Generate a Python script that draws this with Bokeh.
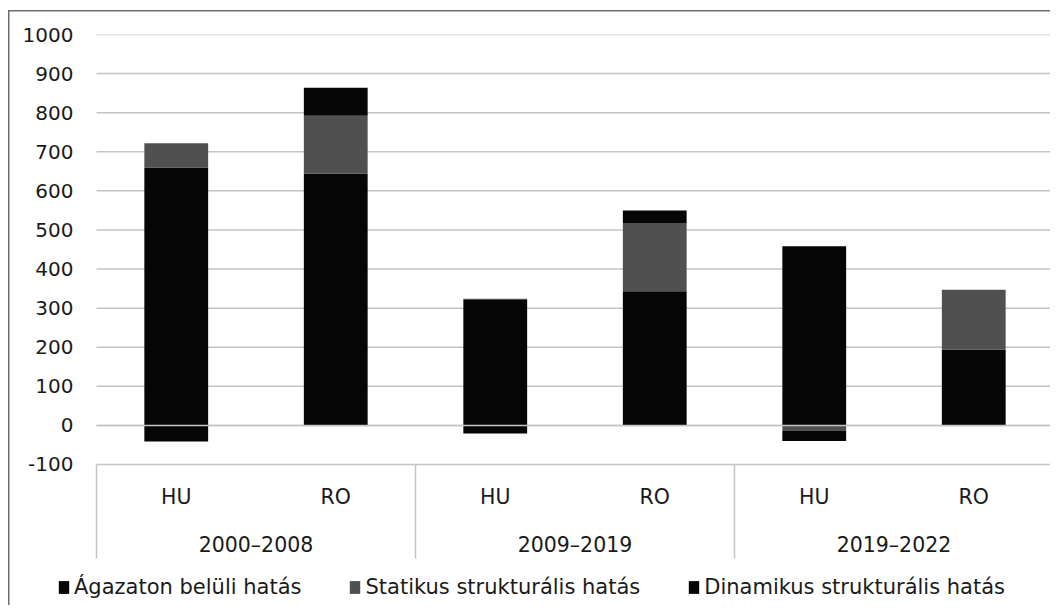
from bokeh.plotting import figure
from bokeh.models import Range1d, FixedTicker, ColumnDataSource, Legend, LegendItem
from bokeh.core.properties import value
from bokeh.embed import file_html
from bokeh.resources import INLINE

# ---- data ----
periods = ["2000–2008", "2009–2019", "2019–2022"]
countries = ["HU", "RO"]
agazaton = [660, 644, 321, 343, 458, 194]
statikus = [62, 148, 3, 175, -13, 153]
dinamikus = [-41, 72, -21, 32, -27, 0]
series_names = ["Ágazaton belüli hatás", "Statikus strukturális hatás", "Dinamikus strukturális hatás"]
series_colors = ["#060606", "#505050", "#060606"]
y_ticks = list(range(-100, 1001, 100))
y_tick_labels = {t: str(t) for t in y_ticks}

FONT = "DejaVu Sans"
TEXT_COLOR = "#1a1a1a"
GRID_COLOR = "#c4c4c4"
Y_BOTTOM = -340.5

n = len(periods) * len(countries)
xs = [i + 0.5 for i in range(n)]
cat_labels = [c for _ in periods for c in countries]

p = figure(width=1050, height=605, output_backend="svg", toolbar_location=None,
           x_range=Range1d(-0.2445, 5.9812), y_range=Range1d(-460.7, 1000),
           x_axis_location=None,
           min_border_left=57, min_border_right=0, min_border_top=34, min_border_bottom=0)
p.border_fill_color = None
p.outline_line_color = None
p.background_fill_color = "white"
p.styles = {
    "background": "linear-gradient(#6e6e6e,#6e6e6e) 8px 10px / 1.5px 100% no-repeat, "
                  "linear-gradient(#6e6e6e,#6e6e6e) 8px 10px / 100% 1.5px no-repeat, white"
}

# y axis (labels sit left of the plotting area)
p.yaxis.ticker = FixedTicker(ticks=y_ticks)
p.yaxis.major_label_overrides = y_tick_labels
p.yaxis.axis_line_color = None
p.yaxis.major_tick_line_color = None
p.yaxis.major_tick_out = 0
p.yaxis.major_tick_in = 0
p.yaxis.minor_tick_line_color = None
p.yaxis.major_label_standoff = -16
p.yaxis.major_label_text_font = FONT
p.yaxis.major_label_text_font_size = "20px"
p.yaxis.major_label_text_color = TEXT_COLOR
p.grid.visible = False

# horizontal gridlines across the category span
p.segment(x0=[0] * len(y_ticks), y0=y_ticks, x1=[n] * len(y_ticks), y1=y_ticks,
          line_color=GRID_COLOR, line_width=1.5)

# stacked bars (positives up, negatives down)
pos = [0.0] * n
neg = [0.0] * n
renderers = []
for name, vals, col in zip(series_names, [agazaton, statikus, dinamikus], series_colors):
    bottoms, tops = [], []
    for i, v in enumerate(vals):
        if v >= 0:
            bottoms.append(pos[i]); tops.append(pos[i] + v); pos[i] += v
        else:
            bottoms.append(neg[i]); tops.append(neg[i] + v); neg[i] += v
    src = ColumnDataSource(dict(x=xs, bottom=bottoms, top=tops))
    r = p.vbar(x="x", bottom="bottom", top="top", width=0.4, source=src,
               fill_color=col, line_color=None)
    renderers.append(r)

# zero line drawn over bars
p.segment(x0=[0], y0=[0], x1=[n], y1=[0], line_color=GRID_COLOR, line_width=1.5)

# category box (Excel style multi-level axis)
seps = [2 * k for k in range(len(periods) + 1)]
p.segment(x0=seps, y0=[-100] * len(seps), x1=seps, y1=[Y_BOTTOM] * len(seps),
          line_color=GRID_COLOR, line_width=1.5)
p.text(x=xs, y=[-184] * n, text=cat_labels, text_font=value(FONT), text_font_size="20.5px",
       text_align="center", text_baseline="middle", text_color=TEXT_COLOR)
p.text(x=[2 * k + 1 for k in range(len(periods))], y=[-307] * len(periods), text=periods,
       text_font=value(FONT), text_font_size="20.5px",
       text_align="center", text_baseline="middle", text_color=TEXT_COLOR)

legend = Legend(items=[LegendItem(label=nm, renderers=[r]) for nm, r in zip(series_names, renderers)],
                orientation="horizontal", location=(0, 6))
legend.label_text_font = FONT
legend.label_text_font_size = "21px"
legend.label_text_color = TEXT_COLOR
legend.glyph_width = 13
legend.glyph_height = 16
legend.label_standoff = 4
legend.spacing = 47
legend.padding = 5
legend.margin = 0
legend.border_line_color = None
legend.background_fill_alpha = 0
p.add_layout(legend)

open("out.html", "w").write(file_html(p, INLINE))
